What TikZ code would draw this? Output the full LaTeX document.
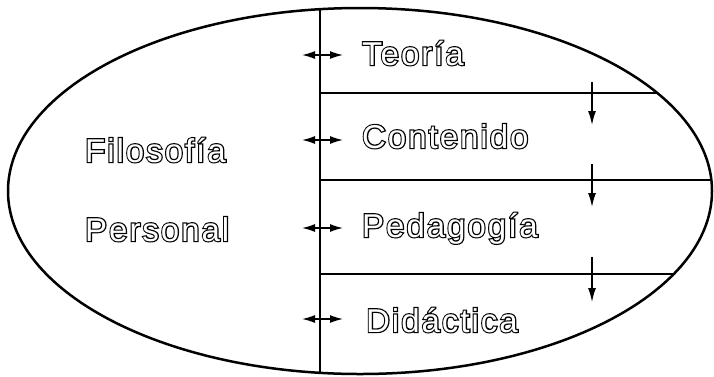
\documentclass[tikz,border=0pt]{standalone}
\usepackage{fontspec}
\setmainfont{Liberation Sans}
\newfontfamily\lblfont[LetterSpace=6]{Liberation Sans}
\newfontfamily\lblboldfont[LetterSpace=6,FakeBold=7]{Liberation Sans}
\usetikzlibrary{arrows.meta}

\tikzset{
  lbl/.style={font=\lblfont\fontsize{33}{36}\selectfont, inner sep=0pt, anchor=base west, text=white},
  lblback/.style={font=\lblboldfont\fontsize{33}{36}\selectfont, inner sep=0pt, anchor=base west, text=black},
  ell/.style={line width=2.5pt},
  rule/.style={line width=1.3pt},
  dbl/.style={line width=1.4pt, {Latex[length=13pt,width=8pt]}-{Latex[length=13pt,width=8pt]}},
  down/.style={line width=1.4pt, -{Latex[length=14pt,width=8pt]}},
}

\newcommand{\otext}[3]{%
  \node[lblback] (#1b) at (#2) {#3};
  \node[lbl] (#1) at (#2) {#3};
}

\begin{document}
\begin{tikzpicture}[x=1pt,y=-1pt]
\useasboundingbox (0,0) rectangle (714,376);

% ellipse
\draw[ell] (360,191) ellipse [x radius=352pt, y radius=183pt];

% named points
\coordinate (vt) at (320,9.2);
\coordinate (vb) at (320,372.8);
\coordinate (h1l) at (320,93);  \coordinate (h1r) at (657.3,93);
\coordinate (h2l) at (320,180); \coordinate (h2r) at (711.4,180);
\coordinate (h3l) at (320,274); \coordinate (h3r) at (673.7,274);

\draw[rule] (vt) -- (vb);
\draw[rule] (h1l) -- (h1r);
\draw[rule] (h2l) -- (h2r);
\draw[rule] (h3l) -- (h3r);

% double arrows
\coordinate (d1l) at (302,55);  \coordinate (d1r) at (343,55);
\coordinate (d2l) at (302,140); \coordinate (d2r) at (343,140);
\coordinate (d3l) at (302,228); \coordinate (d3r) at (343,228);
\coordinate (d4l) at (302,319); \coordinate (d4r) at (343,319);
\draw[dbl] (d1l) -- (d1r);
\draw[dbl] (d2l) -- (d2r);
\draw[dbl] (d3l) -- (d3r);
\draw[dbl] (d4l) -- (d4r);

% down arrows
\coordinate (a1s) at (592,82);  \coordinate (a1e) at (592,125);
\coordinate (a2s) at (592,164); \coordinate (a2e) at (592,207);
\coordinate (a3s) at (592,257); \coordinate (a3e) at (592,302);
\draw[down] (a1s) -- (a1e);
\draw[down] (a2s) -- (a2e);
\draw[down] (a3s) -- (a3e);

% labels
\otext{teo}{362,65}{Teoría}
\otext{con}{362,148}{Contenido}
\otext{ped}{362,237}{Pedagogía}
\otext{did}{366,332}{Didáctica}
\otext{fil}{85,162}{Filosofía}
\otext{per}{85,241}{Personal}
\end{tikzpicture}
\end{document}
